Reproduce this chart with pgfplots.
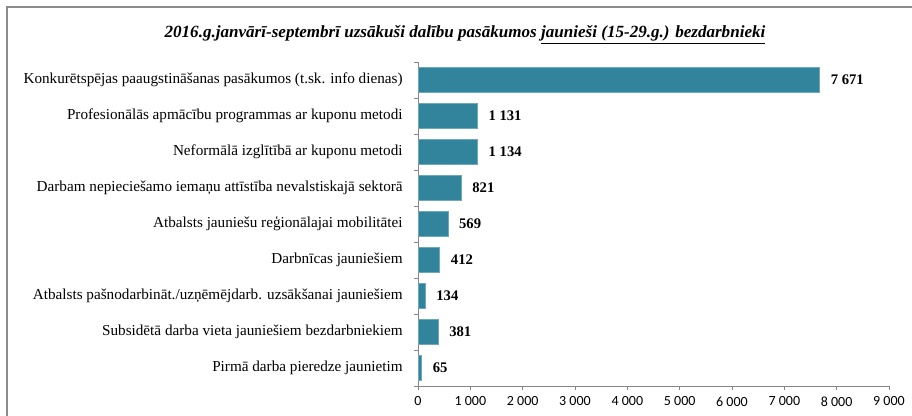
\documentclass[border=0pt]{standalone}
\usepackage{pgfplots}
\pgfplotsset{compat=1.18}
\usepackage{fontspec}
\setmainfont{Liberation Serif}
\newfontfamily\carlito{Carlito}
\definecolor{barc}{HTML}{31849B}
\definecolor{framec}{HTML}{8C8C8C}
\definecolor{axc}{HTML}{868686}
\begin{document}
\begin{tikzpicture}
\useasboundingbox (0,0) rectangle (684pt,312pt);
\draw[framec, line width=1.1pt] (5.25pt,0) -- (5.25pt,306.75pt) -- (684pt,306.75pt);
\node[font=\bfseries\itshape\fontsize{12.8}{14}\selectfont] at (348.75pt,286pt) {2016.g.janvārī-septembrī uzsākuši dalību pasākumos \underline{jaunieši (15-29.g.) bezdarbnieki}};
\begin{axis}[
  at={(313.5pt,22.5pt)}, anchor=south west,
  scale only axis, width=353.25pt, height=243pt,
  xbar, bar width=18.75pt,
  xmin=0, xmax=9000, ymin=-0.5, ymax=8.5,
  axis x line*=bottom, axis y line*=left,
  axis line style={axc, line width=0.6pt},
  every tick/.style={axc, line width=0.6pt},
  tick align=outside,
  xtick={0,1000,...,9000},
  scaled x ticks=false,
  xticklabel style={font=\carlito\fontsize{10.5}{12}\selectfont, yshift=-1.5pt, /pgf/number format/.cd, 1000 sep={\ }, assume math mode=true},
  major tick length=3pt,
  ytick={0,...,8},
  minor ytick={-0.5,0.5,...,8.5},
  minor tick length=3pt,
  major y tick style={draw=none},
  yticklabels={Pirmā darba pieredze jaunietim,
    Subsidētā darba vieta jauniešiem bezdarbniekiem,
    Atbalsts pašnodarbināt./uzņēmējdarb. uzsākšanai jauniešiem,
    Darbnīcas jauniešiem,
    Atbalsts jauniešu reģionālajai mobilitātei,
    Darbam nepieciešamo iemaņu attīstība nevalstiskajā sektorā,
    Neformālā izglītībā ar kuponu metodi,
    Profesionālās apmācību programmas ar kuponu metodi,
    Konkurētspējas paaugstināšanas pasākumos (t.sk. info dienas)},
  yticklabel style={font=\fontsize{11.4}{13}\selectfont, xshift=-5pt},
  nodes near coords={\pgfmathprintnumber[1000 sep={\ }, assume math mode=true]{\pgfplotspointmeta}},
  every node near coord/.append style={font=\bfseries\fontsize{11}{13}\selectfont, xshift=5pt},
  clip=false,
]
\addplot[fill=barc, draw=barc!70!white, line width=0.4pt] coordinates {
(65,0) (381,1) (134,2) (412,3) (569,4) (821,5) (1134,6) (1131,7) (7671,8)};
\end{axis}
\end{tikzpicture}
\end{document}
